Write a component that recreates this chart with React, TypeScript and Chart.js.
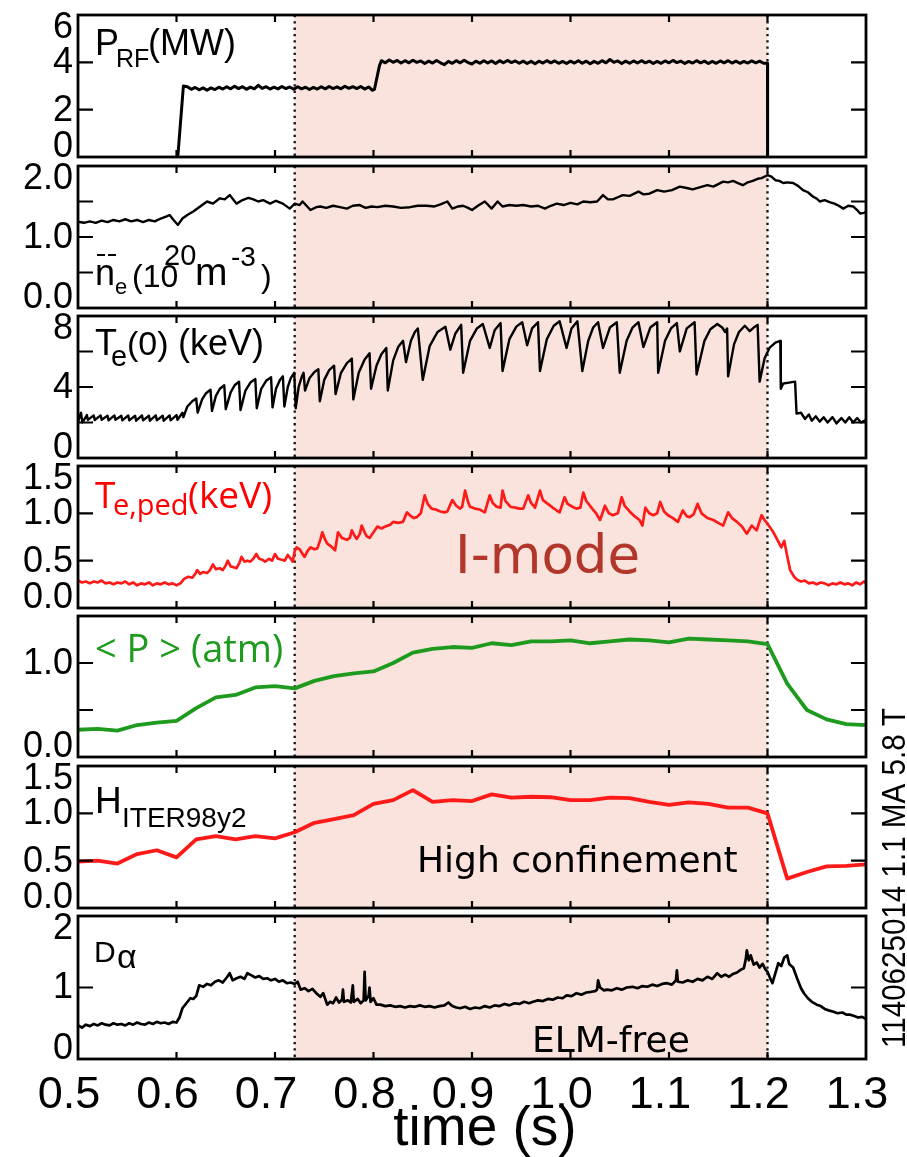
import React, { useEffect, useRef } from "react";
import { Chart, registerables } from "chart.js";

Chart.register(...registerables);

type Pt = [number, number];

// ---------- axis ticks ----------
const timeTicks = [0.5, 0.6, 0.7, 0.8, 0.9, 1.0, 1.1, 1.2, 1.3];
const timeTickLabels = ["0.5", "0.6", "0.7", "0.8", "0.9", "1.0", "1.1", "1.2", "1.3"];
const iModeStart = 0.72;
const iModeEnd = 1.2;

const prfTicks = [0, 2, 4, 6];
const prfTickLabels = ["0", "2", "4", "6"];
const neTicks = [0, 0.5, 1, 1.5, 2];
const neTickLabels = ["0.0", "", "1.0", "", "2.0"];
const te0Ticks = [0, 2, 4, 6, 8];
const te0TickLabels = ["0", "", "4", "", "8"];
const tepedTicks = [0, 0.5, 1, 1.5];
const tepedTickLabels = ["0.0", "0.5", "1.0", "1.5"];
const pTicks = [0, 0.5, 1, 1.5];
const pTickLabels = ["0.0", "", "1.0", ""];
const hTicks = [0, 0.5, 1, 1.5];
const hTickLabels = ["0.0", "0.5", "1.0", "1.5"];
const daTicks = [0, 1, 2];
const daTickLabels = ["0", "1", "2"];

// ---------- series (time s, value) ----------
const prf: Pt[] = [
  [0.6, 0], [0.6015, 0.1], [0.607, 3.0], [0.611, 2.97], [0.615, 2.86], [0.619, 2.94], [0.623, 2.84],
  [0.627, 2.92], [0.631, 2.82], [0.635, 2.92], [0.639, 2.85], [0.643, 2.95], [0.647, 2.87], [0.651, 2.97],
  [0.655, 2.88], [0.659, 2.99], [0.663, 2.89], [0.667, 2.97], [0.671, 2.86], [0.675, 2.95], [0.679, 2.88],
  [0.683, 3.03], [0.687, 2.9], [0.691, 2.97], [0.695, 2.87], [0.699, 2.95], [0.703, 2.88], [0.707, 2.98],
  [0.711, 2.89], [0.715, 2.96], [0.719, 2.86], [0.723, 2.97], [0.727, 2.88], [0.731, 2.95], [0.735, 2.85],
  [0.739, 2.94], [0.743, 2.87], [0.747, 2.97], [0.751, 2.88], [0.755, 2.98], [0.759, 2.89], [0.763, 2.96],
  [0.767, 2.88], [0.771, 2.99], [0.775, 2.9], [0.779, 2.97], [0.783, 2.89], [0.787, 2.98], [0.791, 2.87],
  [0.795, 2.96], [0.799, 2.82], [0.801, 2.86], [0.806, 3.85], [0.808, 4.07], [0.812, 3.98], [0.816, 4.1],
  [0.82, 4.0], [0.824, 4.08], [0.828, 3.97], [0.832, 4.07], [0.836, 3.98], [0.84, 4.09], [0.844, 4.0],
  [0.848, 4.06], [0.852, 3.95], [0.856, 4.05], [0.86, 3.97], [0.864, 4.08], [0.868, 3.98], [0.872, 3.9],
  [0.876, 4.04], [0.88, 3.96], [0.884, 4.07], [0.888, 3.98], [0.892, 4.09], [0.896, 3.99], [0.9, 3.93],
  [0.904, 4.05], [0.908, 3.96], [0.912, 4.07], [0.916, 3.97], [0.92, 4.06], [0.924, 3.95], [0.928, 4.07],
  [0.932, 3.98], [0.936, 4.08], [0.94, 3.99], [0.944, 4.06], [0.948, 3.96], [0.952, 4.05], [0.956, 3.95],
  [0.96, 4.04], [0.964, 3.94], [0.968, 4.05], [0.972, 3.97], [0.976, 4.07], [0.98, 3.98], [0.984, 4.06],
  [0.988, 3.96], [0.992, 4.04], [0.996, 3.95], [1.0, 4.05], [1.004, 3.97], [1.008, 4.07], [1.012, 3.96],
  [1.016, 4.05], [1.02, 3.94], [1.024, 4.04], [1.028, 3.96], [1.032, 4.07], [1.036, 3.98], [1.04, 4.12],
  [1.044, 4.0], [1.048, 4.06], [1.052, 3.95], [1.056, 4.05], [1.06, 3.96], [1.064, 4.06], [1.068, 3.97],
  [1.072, 4.07], [1.076, 3.98], [1.08, 4.05], [1.084, 3.95], [1.088, 4.04], [1.092, 3.96], [1.096, 4.06],
  [1.1, 3.98], [1.104, 4.08], [1.108, 3.99], [1.112, 4.05], [1.116, 3.95], [1.12, 4.04], [1.124, 3.97],
  [1.128, 4.07], [1.132, 3.98], [1.136, 4.05], [1.14, 3.95], [1.144, 4.04], [1.148, 3.96], [1.152, 4.06],
  [1.156, 3.98], [1.16, 4.07], [1.164, 3.97], [1.168, 4.05], [1.172, 3.96], [1.176, 4.04], [1.18, 3.97],
  [1.184, 4.06], [1.188, 3.98], [1.192, 4.05], [1.196, 3.96], [1.2, 3.96], [1.2001, 0],
];

const neBar: Pt[] = [
  [0.5, 1.215], [0.506, 1.2], [0.512, 1.22], [0.518, 1.2], [0.524, 1.23], [0.53, 1.21], [0.536, 1.24],
  [0.542, 1.22], [0.548, 1.25], [0.554, 1.22], [0.56, 1.24], [0.566, 1.21], [0.572, 1.24], [0.578, 1.22],
  [0.584, 1.26], [0.59, 1.29], [0.593, 1.31], [0.597, 1.24], [0.6015, 1.17], [0.606, 1.26], [0.611, 1.31],
  [0.617, 1.36], [0.624, 1.43], [0.631, 1.5], [0.637, 1.47], [0.644, 1.545], [0.649, 1.53], [0.654, 1.59],
  [0.661, 1.47], [0.667, 1.52], [0.673, 1.55], [0.678, 1.53], [0.683, 1.5], [0.688, 1.52], [0.695, 1.47],
  [0.701, 1.51], [0.708, 1.47], [0.715, 1.4], [0.72, 1.47], [0.725, 1.45], [0.728, 1.5], [0.736, 1.38],
  [0.742, 1.42], [0.746, 1.43], [0.752, 1.41], [0.759, 1.44], [0.766, 1.42], [0.773, 1.4], [0.779, 1.44],
  [0.786, 1.45], [0.792, 1.41], [0.798, 1.43], [0.804, 1.42], [0.812, 1.44], [0.82, 1.43], [0.828, 1.41],
  [0.837, 1.42], [0.845, 1.44], [0.854, 1.44], [0.862, 1.43], [0.868, 1.46], [0.875, 1.5], [0.88, 1.4],
  [0.886, 1.43], [0.891, 1.44], [0.896, 1.41], [0.9, 1.38], [0.906, 1.44], [0.913, 1.5], [0.92, 1.4],
  [0.926, 1.5], [0.931, 1.43], [0.938, 1.45], [0.945, 1.44], [0.952, 1.45], [0.96, 1.43], [0.967, 1.44],
  [0.974, 1.4], [0.98, 1.44], [0.986, 1.47], [0.993, 1.45], [1.0, 1.48], [1.007, 1.46], [1.013, 1.5],
  [1.02, 1.49], [1.027, 1.5], [1.033, 1.59], [1.038, 1.53], [1.043, 1.53], [1.048, 1.56], [1.053, 1.59],
  [1.06, 1.58], [1.069, 1.64], [1.074, 1.6], [1.08, 1.61], [1.088, 1.66], [1.095, 1.64], [1.103, 1.66],
  [1.111, 1.71], [1.118, 1.69], [1.124, 1.67], [1.131, 1.7], [1.139, 1.73], [1.145, 1.71], [1.155, 1.78],
  [1.16, 1.77], [1.165, 1.79], [1.17, 1.76], [1.175, 1.73], [1.18, 1.77], [1.185, 1.79], [1.19, 1.82],
  [1.194, 1.83], [1.2, 1.87], [1.204, 1.85], [1.208, 1.8], [1.212, 1.79], [1.216, 1.76], [1.22, 1.77],
  [1.226, 1.76], [1.231, 1.72], [1.236, 1.66], [1.241, 1.63], [1.246, 1.57], [1.25, 1.54], [1.253, 1.5],
  [1.258, 1.52], [1.263, 1.49], [1.268, 1.47], [1.271, 1.45], [1.277, 1.4], [1.282, 1.44], [1.287, 1.43],
  [1.291, 1.38], [1.294, 1.33], [1.298, 1.34], [1.3, 1.36],
];

const te0: Pt[] = [
  [0.5, 2.05], [0.503, 2.55], [0.5045, 2.0], [0.509, 2.42], [0.51, 2.15], [0.516, 2.4], [0.517, 2.14],
  [0.523, 2.4], [0.524, 2.15], [0.53, 2.38], [0.531, 2.12], [0.537, 2.4], [0.538, 2.15], [0.544, 2.38],
  [0.545, 2.12], [0.551, 2.4], [0.552, 2.12], [0.558, 2.38], [0.559, 2.1], [0.565, 2.4], [0.566, 2.12],
  [0.572, 2.38], [0.573, 2.1], [0.579, 2.4], [0.58, 2.12], [0.586, 2.38], [0.587, 2.1], [0.593, 2.4],
  [0.594, 2.12], [0.6, 2.42], [0.601, 2.15], [0.606, 2.55], [0.607, 2.3],
  [0.611, 2.9], [0.616, 3.2], [0.62, 3.35], [0.6215, 2.55],
  [0.626, 3.3], [0.63, 3.65], [0.6345, 3.85], [0.636, 2.65],
  [0.64, 3.5], [0.644, 3.9], [0.6485, 4.1], [0.65, 2.75],
  [0.655, 3.7], [0.659, 4.1], [0.6635, 4.3], [0.665, 2.7],
  [0.67, 3.8], [0.675, 4.25], [0.68, 4.45], [0.6815, 2.8],
  [0.686, 3.9], [0.691, 4.35], [0.696, 4.55], [0.6975, 2.85],
  [0.701, 3.9], [0.705, 4.4], [0.708, 4.6], [0.7095, 2.9],
  [0.713, 4.0], [0.716, 4.5], [0.7195, 4.8], [0.721, 2.8],
  [0.724, 4.0], [0.727, 4.55], [0.729, 4.8], [0.7305, 3.8],
  [0.735, 4.5], [0.74, 4.85], [0.744, 5.0], [0.7455, 3.2],
  [0.75, 4.4], [0.755, 4.95], [0.76, 5.2], [0.7615, 3.6],
  [0.767, 4.8], [0.773, 5.35], [0.778, 5.6], [0.7795, 3.3],
  [0.785, 4.8], [0.791, 5.55], [0.796, 5.9], [0.7975, 3.9],
  [0.803, 5.2], [0.808, 5.85], [0.813, 6.2], [0.8145, 3.8],
  [0.82, 5.5], [0.825, 6.25], [0.83, 6.6], [0.833, 5.4],
  [0.838, 6.6], [0.842, 7.1], [0.845, 7.3], [0.85, 4.4],
  [0.857, 6.3], [0.865, 7.1], [0.873, 7.4], [0.878, 6.1],
  [0.883, 7.0], [0.889, 7.5], [0.891, 4.8],
  [0.898, 6.6], [0.905, 7.3], [0.911, 7.55], [0.918, 6.2],
  [0.923, 7.2], [0.929, 7.6], [0.931, 4.9],
  [0.938, 6.7], [0.945, 7.4], [0.951, 7.65], [0.956, 6.35],
  [0.961, 7.3], [0.967, 7.65], [0.969, 4.9],
  [0.976, 6.7], [0.983, 7.45], [0.989, 7.7], [0.996, 6.2],
  [1.001, 7.3], [1.007, 7.7], [1.012, 4.9],
  [1.018, 6.6], [1.023, 7.35], [1.028, 7.65], [1.033, 6.2],
  [1.04, 7.35], [1.047, 7.65], [1.05, 4.8],
  [1.057, 6.6], [1.063, 7.35], [1.069, 7.65], [1.074, 6.25],
  [1.081, 7.35], [1.088, 7.65], [1.089, 4.8],
  [1.096, 6.6], [1.102, 7.3], [1.108, 7.6], [1.111, 6.0],
  [1.118, 7.3], [1.126, 7.65], [1.128, 4.7],
  [1.136, 6.6], [1.142, 7.25], [1.149, 7.55], [1.154, 7.35], [1.157, 7.1], [1.159, 7.3], [1.16, 4.6],
  [1.166, 6.4], [1.171, 7.1], [1.177, 7.45], [1.182, 7.15], [1.186, 7.35], [1.19, 7.5], [1.192, 4.3],
  [1.197, 5.6], [1.202, 6.2], [1.208, 6.5], [1.213, 6.6], [1.2135, 3.9], [1.216, 4.2], [1.222, 4.25],
  [1.228, 4.3], [1.2295, 2.5], [1.234, 2.55], [1.238, 2.2], [1.242, 2.45], [1.245, 2.1], [1.249, 2.35],
  [1.253, 2.05], [1.257, 2.3], [1.261, 2.0], [1.266, 2.3], [1.27, 1.95], [1.275, 2.25], [1.279, 2.0],
  [1.283, 2.3], [1.287, 2.0], [1.291, 2.25], [1.295, 2.0], [1.3, 2.15],
];

const teped: Pt[] = [
  [0.5, 0.29], [0.504, 0.27], [0.508, 0.28], [0.512, 0.26], [0.516, 0.28], [0.52, 0.27], [0.524, 0.29],
  [0.528, 0.26], [0.532, 0.27], [0.536, 0.25], [0.54, 0.27], [0.544, 0.26], [0.548, 0.28], [0.552, 0.25],
  [0.556, 0.27], [0.56, 0.24], [0.564, 0.26], [0.568, 0.25], [0.572, 0.27], [0.576, 0.24], [0.58, 0.26],
  [0.584, 0.25], [0.588, 0.27], [0.592, 0.25], [0.596, 0.26], [0.6, 0.24], [0.604, 0.26], [0.608, 0.31],
  [0.612, 0.33], [0.616, 0.32], [0.619, 0.36], [0.621, 0.4], [0.624, 0.36], [0.627, 0.38], [0.631, 0.37],
  [0.634, 0.4], [0.637, 0.46], [0.64, 0.41], [0.644, 0.42], [0.647, 0.4], [0.65, 0.45], [0.652, 0.5],
  [0.655, 0.44], [0.658, 0.43], [0.661, 0.42], [0.664, 0.48], [0.666, 0.54], [0.669, 0.49], [0.672, 0.5],
  [0.675, 0.49], [0.678, 0.52], [0.681, 0.57], [0.684, 0.52], [0.687, 0.51], [0.69, 0.49], [0.694, 0.52],
  [0.697, 0.5], [0.7, 0.57], [0.703, 0.52], [0.707, 0.51], [0.71, 0.5], [0.713, 0.56], [0.716, 0.52],
  [0.718, 0.49], [0.72, 0.6], [0.722, 0.64], [0.725, 0.62], [0.728, 0.57], [0.73, 0.54], [0.733, 0.6],
  [0.736, 0.64], [0.74, 0.62], [0.743, 0.63], [0.746, 0.72], [0.748, 0.8], [0.751, 0.72], [0.753, 0.68],
  [0.757, 0.65], [0.761, 0.61], [0.764, 0.8], [0.768, 0.74], [0.773, 0.72], [0.776, 0.74], [0.778, 0.82],
  [0.781, 0.76], [0.783, 0.73], [0.786, 0.78], [0.788, 0.87], [0.791, 0.8], [0.793, 0.76], [0.796, 0.74],
  [0.8, 0.8], [0.804, 0.86], [0.808, 0.84], [0.812, 0.86], [0.817, 0.88], [0.82, 0.91], [0.825, 0.9],
  [0.83, 0.91], [0.834, 1.01], [0.838, 0.97], [0.841, 0.95], [0.844, 0.96], [0.848, 1.0], [0.852, 1.19],
  [0.855, 1.1], [0.859, 1.05], [0.863, 1.04], [0.868, 1.02], [0.872, 1.01], [0.875, 1.02], [0.88, 1.14],
  [0.884, 1.08], [0.888, 1.05], [0.89, 1.07], [0.893, 1.24], [0.896, 1.12], [0.898, 1.07], [0.903, 1.05],
  [0.908, 1.04], [0.913, 1.01], [0.918, 1.19], [0.921, 1.11], [0.925, 1.07], [0.929, 1.06], [0.931, 1.24],
  [0.934, 1.13], [0.939, 1.07], [0.944, 1.06], [0.948, 1.05], [0.952, 1.05], [0.957, 1.19], [0.96, 1.11],
  [0.964, 1.06], [0.969, 1.24], [0.972, 1.14], [0.977, 1.1], [0.982, 1.06], [0.986, 1.03], [0.989, 1.01],
  [0.994, 1.17], [0.997, 1.1], [1.002, 1.07], [1.006, 1.05], [1.01, 1.06], [1.013, 1.22], [1.016, 1.13],
  [1.022, 1.05], [1.026, 1.0], [1.03, 0.93], [1.035, 1.08], [1.039, 1.0], [1.043, 0.98], [1.048, 1.0],
  [1.052, 1.17], [1.055, 1.08], [1.06, 1.02], [1.065, 0.97], [1.07, 0.93], [1.073, 0.87], [1.076, 1.06],
  [1.08, 1.0], [1.084, 0.98], [1.088, 1.0], [1.091, 1.12], [1.095, 1.02], [1.099, 0.98], [1.104, 0.95],
  [1.109, 0.91], [1.114, 1.03], [1.118, 0.97], [1.121, 0.96], [1.125, 0.99], [1.129, 1.1], [1.133, 1.0],
  [1.139, 0.95], [1.145, 0.93], [1.15, 0.9], [1.155, 0.87], [1.16, 1.01], [1.164, 0.95], [1.169, 0.91],
  [1.174, 0.86], [1.179, 0.785], [1.184, 0.87], [1.189, 0.82], [1.194, 0.98], [1.197, 0.93], [1.2, 0.89],
  [1.206, 0.8], [1.211, 0.7], [1.214, 0.64], [1.217, 0.71], [1.22, 0.55], [1.223, 0.4], [1.227, 0.33],
  [1.23, 0.3], [1.234, 0.28], [1.238, 0.29], [1.242, 0.26], [1.246, 0.27], [1.25, 0.25], [1.254, 0.27],
  [1.258, 0.26], [1.262, 0.24], [1.266, 0.26], [1.27, 0.25], [1.274, 0.27], [1.278, 0.25], [1.282, 0.26],
  [1.286, 0.24], [1.29, 0.27], [1.294, 0.25], [1.298, 0.28], [1.3, 0.26],
];

const slowTimes = [
  0.5, 0.52, 0.54, 0.56, 0.58, 0.6, 0.62, 0.64, 0.66, 0.68, 0.7, 0.72, 0.74, 0.76, 0.78, 0.8, 0.82, 0.84,
  0.86, 0.88, 0.9, 0.92, 0.94, 0.96, 0.98, 1.0, 1.02, 1.04, 1.06, 1.08, 1.1, 1.12, 1.14, 1.16, 1.18, 1.2,
  1.22, 1.24, 1.26, 1.28, 1.3,
];
const pressureAtm = [
  0.29, 0.3, 0.28, 0.34, 0.365, 0.385, 0.52, 0.635, 0.66, 0.74, 0.755, 0.73, 0.81, 0.86, 0.89, 0.91, 1.0,
  1.11, 1.15, 1.17, 1.16, 1.21, 1.19, 1.23, 1.23, 1.24, 1.21, 1.23, 1.25, 1.24, 1.22, 1.26, 1.25, 1.24,
  1.23, 1.2, 0.78, 0.5, 0.4, 0.35, 0.34,
];
const h98 = [
  0.49, 0.5, 0.47, 0.57, 0.61, 0.535, 0.725, 0.76, 0.725, 0.76, 0.735, 0.8, 0.9, 0.94, 0.98, 1.1, 1.14,
  1.245, 1.12, 1.14, 1.13, 1.2, 1.165, 1.175, 1.17, 1.14, 1.14, 1.165, 1.16, 1.12, 1.09, 1.115, 1.1, 1.06,
  1.06, 1.0, 0.31, 0.38, 0.44, 0.445, 0.46,
];

const dAlpha: Pt[] = [
  [0.5, 0.47], [0.504, 0.44], [0.508, 0.48], [0.512, 0.46], [0.516, 0.49], [0.52, 0.47], [0.524, 0.5],
  [0.528, 0.48], [0.532, 0.47], [0.536, 0.5], [0.54, 0.48], [0.544, 0.49], [0.548, 0.47], [0.552, 0.5],
  [0.556, 0.48], [0.56, 0.51], [0.564, 0.49], [0.568, 0.48], [0.572, 0.51], [0.576, 0.49], [0.58, 0.52],
  [0.584, 0.5], [0.588, 0.51], [0.592, 0.49], [0.596, 0.52], [0.6, 0.51], [0.603, 0.58], [0.606, 0.71],
  [0.61, 0.78], [0.614, 0.85], [0.617, 0.84], [0.62, 0.88], [0.623, 1.03], [0.627, 1.01], [0.631, 1.05],
  [0.635, 1.03], [0.639, 1.08], [0.643, 1.1], [0.647, 1.07], [0.651, 1.14], [0.654, 1.2], [0.657, 1.1],
  [0.661, 1.13], [0.665, 1.15], [0.669, 1.12], [0.672, 1.2], [0.676, 1.17], [0.68, 1.14], [0.684, 1.16],
  [0.688, 1.12], [0.692, 1.13], [0.696, 1.1], [0.7, 1.12], [0.704, 1.08], [0.708, 1.1], [0.712, 1.06],
  [0.716, 1.07], [0.72, 1.05], [0.723, 1.08], [0.726, 0.97], [0.73, 0.99], [0.734, 0.95], [0.738, 0.98],
  [0.742, 0.92], [0.746, 0.87], [0.749, 0.92], [0.753, 0.76], [0.756, 0.8], [0.759, 0.78], [0.762, 0.86],
  [0.765, 0.79], [0.768, 0.83], [0.769, 0.97], [0.77, 0.8], [0.774, 0.82], [0.777, 0.79], [0.779, 1.03],
  [0.78, 0.8], [0.784, 0.84], [0.787, 0.78], [0.79, 0.82], [0.791, 1.22], [0.792, 0.82], [0.795, 0.88],
  [0.796, 1.0], [0.797, 0.8], [0.8, 0.85], [0.803, 0.76], [0.807, 0.76], [0.812, 0.74], [0.817, 0.75],
  [0.822, 0.73], [0.827, 0.74], [0.832, 0.72], [0.837, 0.74], [0.842, 0.73], [0.847, 0.75], [0.852, 0.73],
  [0.857, 0.74], [0.862, 0.72], [0.867, 0.74], [0.872, 0.75], [0.876, 0.79], [0.88, 0.74], [0.884, 0.72],
  [0.888, 0.71], [0.893, 0.73], [0.898, 0.7], [0.903, 0.72], [0.908, 0.71], [0.913, 0.74], [0.918, 0.72],
  [0.923, 0.75], [0.928, 0.74], [0.933, 0.77], [0.938, 0.75], [0.943, 0.78], [0.948, 0.77], [0.953, 0.8],
  [0.958, 0.78], [0.962, 0.8], [0.967, 0.82], [0.972, 0.81], [0.977, 0.84], [0.982, 0.83], [0.987, 0.86],
  [0.992, 0.85], [0.996, 0.89], [1.001, 0.88], [1.006, 0.92], [1.011, 0.9], [1.016, 0.93], [1.021, 0.94],
  [1.025, 0.95], [1.027, 0.97], [1.028, 1.1], [1.03, 1.0], [1.034, 0.96], [1.037, 0.97], [1.042, 0.96],
  [1.047, 0.99], [1.052, 0.97], [1.057, 1.0], [1.063, 1.01], [1.068, 0.99], [1.073, 1.02], [1.078, 1.01],
  [1.083, 1.04], [1.088, 1.02], [1.093, 1.05], [1.098, 1.06], [1.103, 1.04], [1.107, 1.1], [1.108, 1.24],
  [1.109, 1.08], [1.114, 1.07], [1.119, 1.1], [1.124, 1.08], [1.129, 1.12], [1.134, 1.1], [1.139, 1.15],
  [1.144, 1.12], [1.149, 1.2], [1.153, 1.15], [1.157, 1.18], [1.161, 1.15], [1.165, 1.19], [1.169, 1.21],
  [1.173, 1.25], [1.176, 1.27], [1.178, 1.4], [1.179, 1.52], [1.181, 1.38], [1.183, 1.45], [1.186, 1.32],
  [1.189, 1.35], [1.192, 1.28], [1.195, 1.33], [1.198, 1.25], [1.2, 1.22], [1.203, 1.12], [1.205, 1.06],
  [1.208, 1.2], [1.211, 1.34], [1.214, 1.3], [1.217, 1.42], [1.22, 1.45], [1.222, 1.33], [1.226, 1.28],
  [1.23, 1.13], [1.234, 0.99], [1.237, 0.92], [1.241, 0.85], [1.245, 0.8], [1.25, 0.76], [1.254, 0.74],
  [1.258, 0.7], [1.262, 0.68], [1.267, 0.66], [1.271, 0.64], [1.276, 0.65], [1.28, 0.62], [1.284, 0.62],
  [1.288, 0.6], [1.292, 0.58], [1.296, 0.59], [1.3, 0.56],
];

// ---------- styling / layout ----------
const W = 907;
const H = 1157;
const LIB = '"Liberation Sans", Arial, sans-serif';
const DJV = '"DejaVu Sans", Verdana, sans-serif';
const OPS = '"Open Sans", "DejaVu Sans", sans-serif';
const SHADE = "#fae3dc";
const RED = "#ff1a1a";
const GREEN = "#1e9b1e";

type Series = { pts: { x: number; y: number }[]; color: string; width: number };
type Panel = {
  top: number;
  bottom: number;
  yMax: number;
  ticks: number[];
  tickLabels: string[];
  series: Series[];
  annotate: (ctx: CanvasRenderingContext2D) => void;
  bottomAxis?: boolean;
};

const toXY = (arr: Pt[]) => arr.map(([x, y]) => ({ x, y }));
const zipXY = (xs: number[], ys: number[]) => xs.map((x, i) => ({ x, y: ys[i] }));

function txt(
  ctx: CanvasRenderingContext2D,
  s: string,
  x: number,
  y: number,
  font: string,
  color = "#000",
  align: CanvasTextAlign = "left"
) {
  ctx.font = font;
  ctx.fillStyle = color;
  ctx.textAlign = align;
  ctx.textBaseline = "alphabetic";
  ctx.fillText(s, x, y);
}

const PANELS: Panel[] = [
  {
    top: 15, bottom: 157, yMax: 6, ticks: prfTicks, tickLabels: prfTickLabels,
    series: [{ pts: toXY(prf), color: "#000", width: 3 }],
    annotate: (ctx) => {
      txt(ctx, "P", 95, 55, `36px ${LIB}`);
      txt(ctx, "RF", 116, 67, `25px ${LIB}`);
      txt(ctx, "(MW)", 148, 55, `36px ${LIB}`);
    },
  },
  {
    top: 166, bottom: 308, yMax: 2, ticks: neTicks, tickLabels: neTickLabels,
    series: [{ pts: toXY(neBar), color: "#000", width: 2.4 }],
    annotate: (ctx) => {
      txt(ctx, "n", 95, 285, `36px ${LIB}`);
      ctx.save();
      ctx.strokeStyle = "#000";
      ctx.lineWidth = 2.2;
      ctx.beginPath();
      ctx.moveTo(97, 255); ctx.lineTo(105, 255);
      ctx.moveTo(108, 255); ctx.lineTo(116, 255);
      ctx.stroke();
      ctx.restore();
      txt(ctx, "e", 115, 294, `22px ${LIB}`);
      txt(ctx, "(10", 132, 287, `32px ${LIB}`);
      txt(ctx, "20", 164, 265, `29px ${LIB}`);
      txt(ctx, "m", 195, 285, `39px ${LIB}`);
      txt(ctx, "-3", 231, 266, `28px ${LIB}`);
      txt(ctx, ")", 261, 287, `32px ${LIB}`);
    },
  },
  {
    top: 316, bottom: 458, yMax: 8, ticks: te0Ticks, tickLabels: te0TickLabels,
    series: [{ pts: toXY(te0), color: "#000", width: 2.4 }],
    annotate: (ctx) => {
      txt(ctx, "T", 95, 355, `36px ${LIB}`);
      txt(ctx, "e", 111, 366, `29px ${LIB}`);
      txt(ctx, "(0)", 127, 355, `34px ${LIB}`);
      txt(ctx, "(keV)", 178, 355, `36px ${LIB}`);
    },
  },
  {
    top: 466, bottom: 608, yMax: 1.5, ticks: tepedTicks, tickLabels: tepedTickLabels,
    series: [{ pts: toXY(teped), color: RED, width: 2.7 }],
    annotate: (ctx) => {
      txt(ctx, "T", 95, 508, `37px ${OPS}`, "#ff0000");
      txt(ctx, "e,ped", 113, 515, `29px ${OPS}`, "#ff0000");
      txt(ctx, "(keV)", 188, 508, `37px ${OPS}`, "#ff0000");
      txt(ctx, "I-mode", 455, 573, `53px ${DJV}`, "#b3362b");
    },
  },
  {
    top: 616, bottom: 757, yMax: 1.5, ticks: pTicks, tickLabels: pTickLabels,
    series: [{ pts: zipXY(slowTimes, pressureAtm), color: GREEN, width: 3.8 }],
    annotate: (ctx) => {
      txt(ctx, "< P > (atm)", 95, 662, `38px ${OPS}`, GREEN);
    },
  },
  {
    top: 766, bottom: 908, yMax: 1.5, ticks: hTicks, tickLabels: hTickLabels,
    series: [{ pts: zipXY(slowTimes, h98), color: RED, width: 3.8 }],
    annotate: (ctx) => {
      txt(ctx, "H", 95, 813, `37px ${LIB}`);
      txt(ctx, "ITER98y2", 122, 827, `28px ${LIB}`);
      txt(ctx, "High confinement", 417, 872, `36px ${DJV}`);
    },
  },
  {
    top: 916, bottom: 1059, yMax: 2, ticks: daTicks, tickLabels: daTickLabels,
    series: [{ pts: toXY(dAlpha), color: "#000", width: 2.7 }],
    bottomAxis: true,
    annotate: (ctx) => {
      txt(ctx, "D", 94, 962, `30px ${LIB}`);
      txt(ctx, "\u03b1", 117, 968, `34px ${LIB}`);
      txt(ctx, "ELM-free", 532, 1052, `36px ${DJV}`);
      // shot info, rotated
      ctx.save();
      ctx.translate(905, 1048);
      ctx.rotate(-Math.PI / 2);
      ctx.scale(0.87, 1);
      txt(ctx, "1140625014 1.1 MA 5.8 T", 0, 0, `34px ${LIB}`);
      ctx.restore();
    },
  },
];

function panelPlugin(p: Panel, idx: number) {
  return {
    id: "panelDeco" + idx,
    beforeDatasetsDraw(chart: any) {
      const { ctx, chartArea: a, scales } = chart;
      const xs = scales.x;
      const x0 = xs.getPixelForValue(iModeStart);
      const x1 = xs.getPixelForValue(iModeEnd);
      ctx.save();
      ctx.fillStyle = SHADE;
      ctx.fillRect(x0, a.top, x1 - x0, a.bottom - a.top);
      ctx.strokeStyle = "#111";
      ctx.lineWidth = 2.3;
      ctx.setLineDash([2.3, 4]);
      for (const xv of [x0, x1]) {
        ctx.beginPath();
        ctx.moveTo(xv, a.top);
        ctx.lineTo(xv, a.bottom);
        ctx.stroke();
      }
      ctx.restore();
    },
    afterDatasetsDraw(chart: any) {
      const { ctx, chartArea: a, scales } = chart;
      const xs = scales.x;
      const ys = scales.y;
      ctx.save();
      // frame
      ctx.strokeStyle = "#000";
      ctx.lineWidth = 2.8;
      ctx.strokeRect(a.left, a.top, a.right - a.left, a.bottom - a.top);
      // ticks
      ctx.lineWidth = 2.2;
      ctx.beginPath();
      for (const v of p.ticks) {
        const py = ys.getPixelForValue(v);
        if (py <= a.top + 1 || py >= a.bottom - 1) continue;
        ctx.moveTo(a.left, py); ctx.lineTo(a.left + 15, py);
        ctx.moveTo(a.right, py); ctx.lineTo(a.right - 15, py);
      }
      for (const t of timeTicks) {
        const px = xs.getPixelForValue(t);
        if (px <= a.left + 1 || px >= a.right - 1) continue;
        ctx.moveTo(px, a.top); ctx.lineTo(px, a.top + 7);
        ctx.moveTo(px, a.bottom); ctx.lineTo(px, a.bottom - 7);
      }
      ctx.stroke();
      // y tick labels
      const fs = 36;
      const cap = fs * 0.716;
      p.ticks.forEach((v, i) => {
        const lab = p.tickLabels[i];
        if (!lab) return;
        const py = ys.getPixelForValue(v);
        let base: number;
        if (v === p.yMax) base = a.top + cap - 3;
        else if (v === 0) base = a.bottom;
        else base = py + cap / 2 - 2;
        txt(ctx, lab, a.left - 5, base, `${fs}px ${LIB}`, "#000", "right");
      });
      // bottom axis labels + title
      if (p.bottomAxis) {
        timeTicks.forEach((t, i) => {
          const px = xs.getPixelForValue(t);
          txt(ctx, timeTickLabels[i], px - 9, a.bottom + 49, `45px ${LIB}`, "#000", "center");
        });
        txt(ctx, "time (s)", (a.left + a.right) / 2 + 13, a.bottom + 86, `55px ${LIB}`, "#000", "center");
      }
      p.annotate(ctx);
      ctx.restore();
    },
  };
}

function buildConfig(p: Panel, idx: number): any {
  return {
    type: "line",
    data: {
      datasets: p.series.map((s) => ({
        data: s.pts,
        borderColor: s.color,
        borderWidth: s.width,
        pointRadius: 0,
        fill: false,
        tension: 0,
        borderJoinStyle: "round",
        borderCapStyle: "round",
      })),
    },
    options: {
      responsive: false,
      animation: false,
      events: [],
      layout: { padding: { left: 78, right: W - 866, top: p.top, bottom: H - p.bottom } },
      scales: {
        x: { type: "linear", min: 0.5, max: 1.3, display: false },
        y: { type: "linear", min: 0, max: p.yMax, display: false },
      },
      plugins: { legend: { display: false }, tooltip: { enabled: false } },
    },
    plugins: [panelPlugin(p, idx)],
  };
}

export default function App() {
  const refs = useRef<(HTMLCanvasElement | null)[]>([]);
  useEffect(() => {
    const charts = PANELS.map((p, i) => new Chart(refs.current[i] as HTMLCanvasElement, buildConfig(p, i)));
    return () => charts.forEach((c) => c.destroy());
  }, []);
  return (
    <div style={{ position: "absolute", left: 0, top: 0, width: W, height: H, background: "#fff", overflow: "hidden" }}>
      {PANELS.map((_, i) => (
        <canvas
          key={i}
          ref={(el) => {
            refs.current[i] = el;
          }}
          width={W}
          height={H}
          style={{ position: "absolute", left: 0, top: 0, width: W, height: H }}
        />
      ))}
    </div>
  );
}
